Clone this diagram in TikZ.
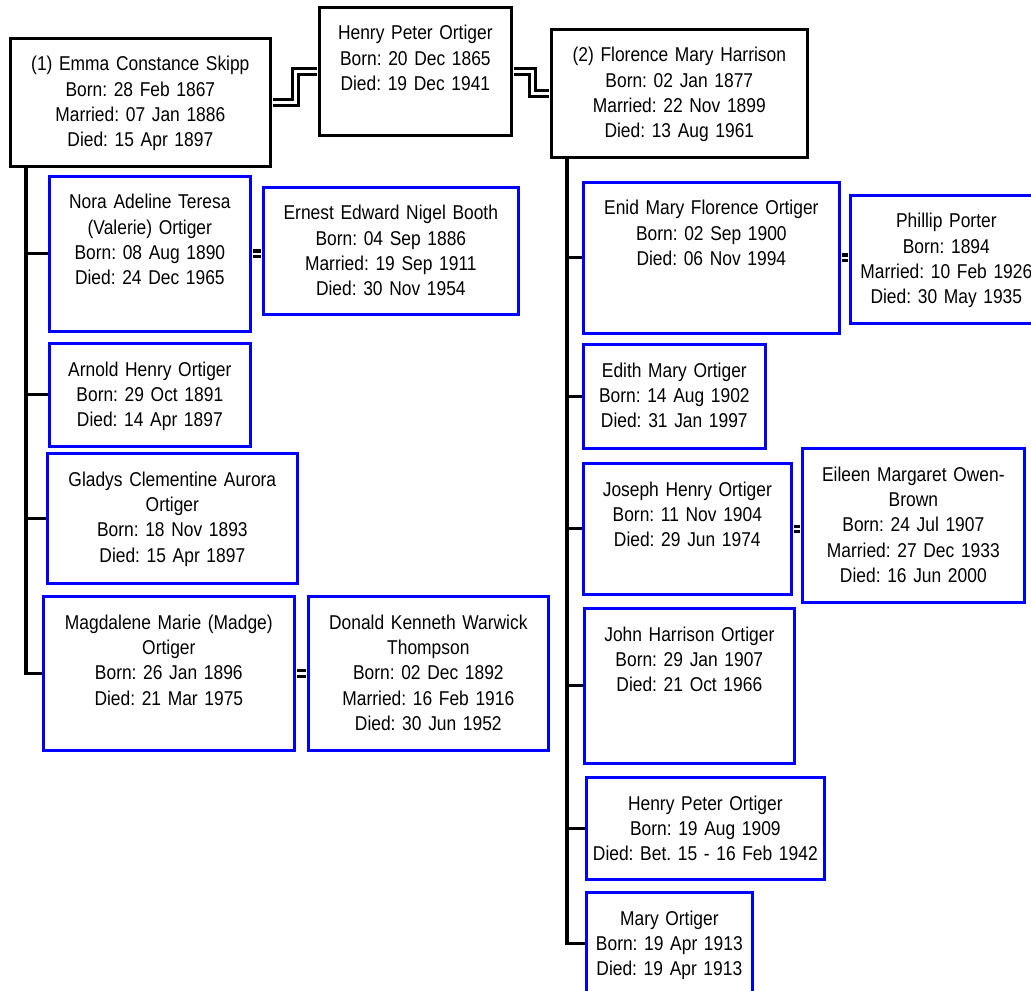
\documentclass[tikz,border=0pt]{standalone}
\usepackage{fontspec}
\setmainfont{Liberation Sans}[FakeStretch=0.87]
\usepackage{tikz}
\frenchspacing

\begin{document}
\begin{tikzpicture}[x=0.75pt, y=-0.75pt,
      every node/.style = {shape=rectangle, draw, line width=2pt,
        align=center, anchor=north west, inner xsep=1pt, inner ysep=0pt,
        font=\fontsize{15}{19}\selectfont, text height=24.5pt},
      gen1/.style = {draw=black},
      gen2/.style = {draw=blue},
      boxsize/.style 2 args = {minimum width=#1*0.75pt,
        text width=#1*0.75pt-2pt, text depth=#2*0.75pt-24.5pt},
      descent/.style = {line width=2.3pt},
      marriage/.style = {line width=2.3pt, double=white, double distance=1.9pt,
        shorten <=1pt, shorten >=1pt}]
    \useasboundingbox (0,0) rectangle (1031,991);
    \clip (0,0) rectangle (1031,991);

    % parents
    \node[gen1, boxsize={260}{128}] (emma) at (9,37)
      {(1) Emma Constance Skipp\\Born: 28 Feb 1867\\Married: 07 Jan 1886\\Died: 15 Apr 1897};
    \node[gen1, boxsize={192}{128}] (henry) at (318,6)
      {Henry Peter Ortiger\\Born: 20 Dec 1865\\Died: 19 Dec 1941};
    \node[gen1, boxsize={256}{128}] (florence) at (550,28)
      {(2) Florence Mary Harrison\\Born: 02 Jan 1877\\Married: 22 Nov 1899\\Died: 13 Aug 1961};

    % children of the first marriage
    \node[gen2, boxsize={201}{155}] (nora) at (48,175)
      {Nora Adeline Teresa\\(Valerie) Ortiger\\Born: 08 Aug 1890\\Died: 24 Dec 1965};
    \node[gen2, boxsize={255}{127}] (ernest) at (262,186)
      {Ernest Edward Nigel Booth\\Born: 04 Sep 1886\\Married: 19 Sep 1911\\Died: 30 Nov 1954};
    \node[gen2, boxsize={201}{103}] (arnold) at (48,342)
      {Arnold Henry Ortiger\\Born: 29 Oct 1891\\Died: 14 Apr 1897};
    \node[gen2, boxsize={250}{130}] (gladys) at (46,452)
      {Gladys Clementine Aurora\\Ortiger\\Born: 18 Nov 1893\\Died: 15 Apr 1897};
    \node[gen2, boxsize={251}{154}] (magdalene) at (42,595)
      {Magdalene Marie (Madge)\\Ortiger\\Born: 26 Jan 1896\\Died: 21 Mar 1975};
    \node[gen2, boxsize={240}{154}] (donald) at (307,595)
      {Donald Kenneth Warwick\\Thompson\\Born: 02 Dec 1892\\Married: 16 Feb 1916\\Died: 30 Jun 1952};

    % children of the second marriage
    \node[gen2, boxsize={256}{151}] (enid) at (582,181)
      {Enid Mary Florence Ortiger\\Born: 02 Sep 1900\\Died: 06 Nov 1994};
    \node[gen2, boxsize={192}{128}] (phillip) at (849,194)
      {Phillip Porter\\Born: 1894\\Married: 10 Feb 1926\\Died: 30 May 1935};
    \node[gen2, boxsize={182}{104}] (edith) at (582,343)
      {Edith Mary Ortiger\\Born: 14 Aug 1902\\Died: 31 Jan 1997};
    \node[gen2, boxsize={208}{131}] (joseph) at (582,462)
      {Joseph Henry Ortiger\\Born: 11 Nov 1904\\Died: 29 Jun 1974};
    \node[gen2, boxsize={222}{154}] (eileen) at (801,447)
      {Eileen Margaret Owen-\\Brown\\Born: 24 Jul 1907\\Married: 27 Dec 1933\\Died: 16 Jun 2000};
    \node[gen2, boxsize={210}{155}] (john) at (583,607)
      {John Harrison Ortiger\\Born: 29 Jan 1907\\Died: 21 Oct 1966};
    \node[gen2, boxsize={238}{102}] (henryjr) at (585,776)
      {Henry Peter Ortiger\\Born: 19 Aug 1909\\Died: Bet. 15 - 16 Feb 1942};
    \node[gen2, boxsize={166}{102}] (mary) at (585,891)
      {Mary Ortiger\\Born: 19 Apr 1913\\Died: 19 Apr 1913};

    % marriages
    \draw[marriage] (emma.east) -- ++(24,0) |- (henry.west);
    \draw[marriage] (henry.east) -- ++(20,0) |- (florence.west);
    \draw[marriage] (nora.east) -- (nora.east -| ernest.west);
    \draw[marriage] (magdalene.east) -- (donald.west);
    \draw[marriage] (enid.east) -- (enid.east -| phillip.west);
    \draw[marriage] (joseph.east) -- (joseph.east -| eileen.west);

    % descent lines
    \coordinate (ltrunk) at (26,165);
    \coordinate (rtrunk) at (567,156);
    \draw[descent] (ltrunk) |- (magdalene.west);
    \draw[descent] (ltrunk |- nora.west) -- (nora.west);
    \draw[descent] (ltrunk |- arnold.west) -- (arnold.west);
    \draw[descent] (ltrunk |- gladys.west) -- (gladys.west);
    \draw[descent] (rtrunk) |- (mary.west);
    \draw[descent] (rtrunk |- enid.west) -- (enid.west);
    \draw[descent] (rtrunk |- edith.west) -- (edith.west);
    \draw[descent] (rtrunk |- joseph.west) -- (joseph.west);
    \draw[descent] (rtrunk |- john.west) -- (john.west);
    \draw[descent] (rtrunk |- henryjr.west) -- (henryjr.west);
  \end{tikzpicture}
\end{document}
